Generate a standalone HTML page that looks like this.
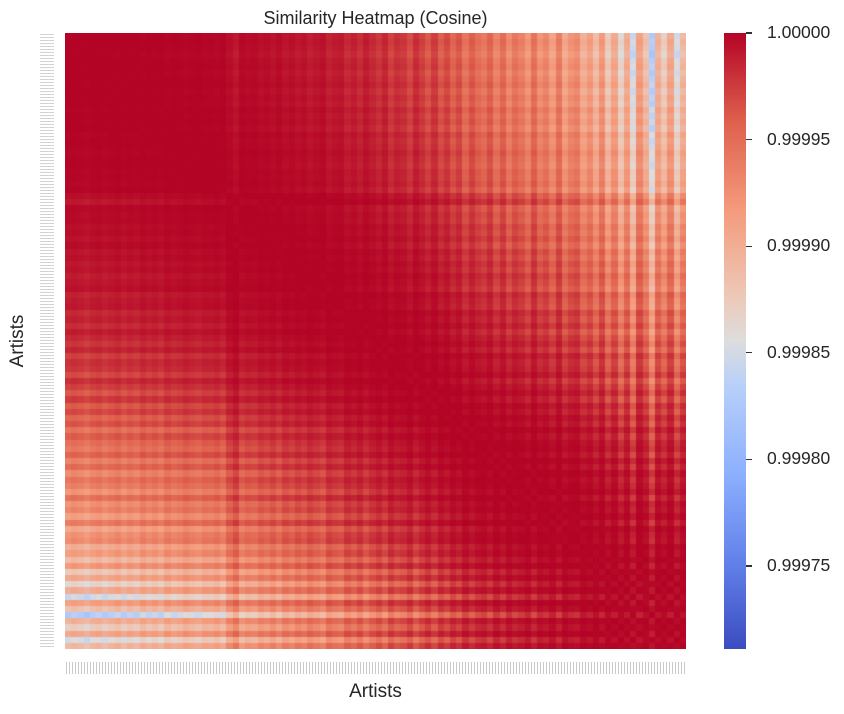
<!DOCTYPE html>
<html><head><meta charset="utf-8"><style>
body{margin:0;background:#fff;width:844px;height:714px;overflow:hidden;position:relative;font-family:"Liberation Sans",sans-serif;color:#262626}
.abs{position:absolute}
</style></head><body>
<div class="abs" style="left:65px;width:621px;top:8px;text-align:center;font-size:18px">Similarity Heatmap (Cosine)</div>
<div class="abs" style="left:40px;top:33px;width:14px;height:616px;background:repeating-linear-gradient(#fff 0 1px,#c8c8c8 1px 2px,#fff 2px 3px);opacity:.8"></div>
<div class="abs" style="left:65px;top:662px;width:621px;height:12px;background:repeating-linear-gradient(90deg,#fff 0 1px,#bdbdbd 1px 2px,#fff 2px 3px);opacity:.8"></div>
<canvas id="hm" class="abs" width="621" height="616" style="left:65px;top:33px"></canvas>
<div class="abs" style="left:65px;width:621px;top:681px;text-align:center;font-size:19px">Artists</div>
<div class="abs" style="left:-22px;top:330px;width:80px;text-align:center;font-size:19px;transform:rotate(-90deg)">Artists</div>
<div class="abs" id="cbar" style="left:724px;top:33px;width:22px;height:616px"></div>
<div id="cbt"></div>
<script>
const artistScores=[0.02,0.05,0.03,0.0,0.04,0.06,0.02,0.05,0.08,0.03,0.07,0.04,0.1,0.06,0.09,0.05,0.12,0.08,0.1,0.14,0.11,0.09,0.13,0.12,0.15,0.1,0.22,
0.3,0.16,0.2,0.18,0.24,0.21,0.26,0.2,0.28,0.24,0.3,0.26,0.33,0.29,0.25,0.36,0.32,0.3,0.4,0.35,0.42,0.33,0.4,0.46,0.38,0.5,0.43,0.46,0.54,0.42,0.5,0.58,0.48,
0.6,0.53,0.64,0.57,0.7,0.6,0.68,0.72,0.63,0.76,0.66,0.79,0.7,0.75,0.83,0.69,0.82,0.77,0.87,0.73,0.9,0.82,0.79,0.93,0.86,
0.98,0.84,1.03,0.9,1.08,0.92,1.14,0.87,1.0,1.2,0.94,1.05,0.9,1.12,0.97];
const tickValues=[1.0,0.99995,0.9999,0.99985,0.9998,0.99975];
const tickLabels=["1.00000","0.99995","0.99990","0.99985","0.99980","0.99975"];
const vmin=0.999711,vmax=1.0;
const stops=[[0,59,76,192],[0.143,98,130,234],[0.286,141,176,254],[0.429,184,208,249],[0.5,221,221,221],[0.571,237,201,184],[0.714,244,154,123],[0.857,222,96,77],[1,180,4,38]];
function cmap(v){let t=Math.max(0,Math.min(1,(v-vmin)/(vmax-vmin)));for(let i=1;i<stops.length;i++){if(t<=stops[i][0]){const a=stops[i-1],b=stops[i],f=(t-a[0])/(b[0]-a[0]);return `rgb(${Math.round(a[1]+f*(b[1]-a[1]))},${Math.round(a[2]+f*(b[2]-a[2]))},${Math.round(a[3]+f*(b[3]-a[3]))})`;}}return 'rgb(180,4,38)';}
function sim(i,j){const d=artistScores[i]-artistScores[j];return 1-0.000125*d*d;}
const W=621,H=616,n=artistScores.length;
const xs=i=>Math.round(i*W/n), ys=i=>Math.round(i*H/n);
const ctx=document.getElementById('hm').getContext('2d');
for(let r=0;r<n;r++)for(let c=0;c<n;c++){ctx.fillStyle=cmap(sim(r,c));ctx.fillRect(xs(c),ys(r),xs(c+1)-xs(c),ys(r+1)-ys(r));}
const cb=document.getElementById('cbar');
cb.style.background='linear-gradient(to top,'+stops.map(s=>`rgb(${s[1]},${s[2]},${s[3]}) ${s[0]*100}%`).join(',')+')';
const cbt=document.getElementById('cbt');
const yv=v=>33+(vmax-v)/(vmax-vmin)*616;
tickValues.forEach((v,i)=>{
 const tk=document.createElement('div');tk.className='abs';
 
 
 tk.style.cssText=`left:746px;top:${yv(v)-0.6}px;width:6px;height:1.3px;background:#333`;cbt.appendChild(tk);
 const lb=document.createElement('div');lb.className='abs';
 
 
 lb.style.cssText=`left:767px;top:${yv(v)-11}px;font-size:17.5px`;lb.textContent=tickLabels[i];cbt.appendChild(lb);
});
</script>
</body></html>
